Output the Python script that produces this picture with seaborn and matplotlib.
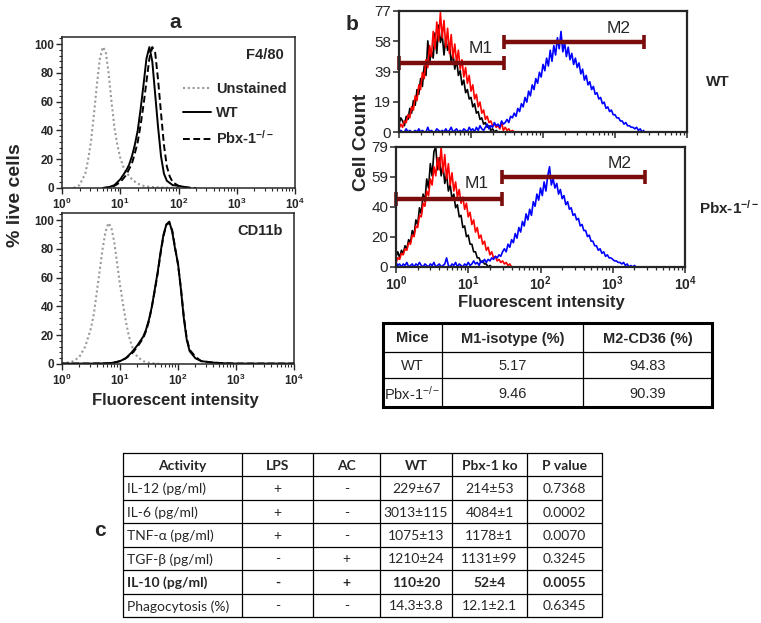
import numpy as np
import pandas as pd
import matplotlib.pyplot as plt
import seaborn as sns
from matplotlib.lines import Line2D
from matplotlib.ticker import MultipleLocator, LogLocator, NullFormatter

sns.set_theme(style='ticks')
plt.rcParams['font.family'] = ['Liberation Sans', 'DejaVu Sans']
plt.rcParams['mathtext.fontset'] = 'custom'
plt.rcParams['mathtext.rm'] = 'Liberation Sans'
plt.rcParams['mathtext.bf'] = 'Liberation Sans:bold'
plt.rcParams['mathtext.it'] = 'Liberation Sans:italic'

# ---- panel a : % of max vs log10(fluorescence) ----
f480_unst_x = [0.2, 0.3, 0.4, 0.45, 0.5, 0.55, 0.6, 0.65, 0.7, 0.75, 0.8, 0.85, 0.9, 0.95,
               1.0, 1.05, 1.1, 1.2, 1.3, 1.4, 1.5, 1.7, 2.0]
f480_unst_y = [0, 2, 10, 20, 33, 52, 72, 90, 98, 95, 80, 60, 42, 30,
               21, 15, 11, 6, 3, 1.5, 0.8, 0.3, 0]
f480_wt_x = [0.7, 0.8, 0.9, 1.0, 1.1, 1.15, 1.2, 1.25, 1.3, 1.35, 1.4, 1.45, 1.5, 1.55,
             1.6, 1.65, 1.7, 1.75, 1.8, 1.9, 2.0, 2.2]
f480_wt_y = [0, 0.5, 2, 6, 12, 16, 22, 30, 40, 55, 72, 90, 98, 88,
             65, 42, 22, 10, 5, 2, 1.5, 0]
f480_ko_x = [0.7, 0.8, 0.9, 1.0, 1.1, 1.15, 1.2, 1.25, 1.3, 1.35, 1.4, 1.45, 1.5, 1.55,
             1.6, 1.65, 1.7, 1.75, 1.8, 1.85, 1.9, 2.0, 2.1, 2.3]
f480_ko_y = [0, 0.5, 1.5, 4, 9, 13, 17, 24, 32, 44, 58, 74, 90, 98,
             94, 75, 52, 30, 15, 8, 4, 1.5, 0.5, 0]

cd11_unst_x = [0.0, 0.1, 0.2, 0.3, 0.4, 0.5, 0.55, 0.6, 0.65, 0.7, 0.75, 0.8, 0.85, 0.9,
               0.95, 1.0, 1.05, 1.1, 1.15, 1.2, 1.25, 1.3, 1.4, 1.5, 1.7]
cd11_unst_y = [0.5, 1, 2, 5, 12, 25, 35, 50, 65, 80, 92, 98, 95, 85,
               70, 55, 42, 30, 20, 13, 8, 5, 2, 0.8, 0]
cd11_wt_x = [0.0, 0.5, 0.8, 0.9, 1.0, 1.1, 1.2, 1.3, 1.4, 1.45, 1.5, 1.55, 1.6, 1.65, 1.7,
             1.75, 1.8, 1.85, 1.9, 1.95, 2.0, 2.05, 2.1, 2.15, 2.2, 2.3, 2.4, 2.6, 2.8, 3.0, 4.0]
cd11_wt_y = [0.3, 0.3, 0.5, 1, 2, 4, 8, 13, 19, 24, 31, 40, 52, 64, 78,
             90, 97, 99, 92, 80, 70, 52, 32, 17, 9, 4, 2, 1, 0.5, 0.3, 0.3]
cd11_ko_y = [0.3, 0.3, 0.5, 1, 2, 4, 7, 12, 18, 23, 30, 40, 51, 63, 77,
             89, 97, 98, 93, 81, 69, 53, 33, 18, 10, 5, 2, 1, 0.5, 0.3, 0.3]

# ---- panel b : cell count per channel (channels every 0.025 decade) ----
LOG_BINS = [round(0.025 * i, 3) for i in range(141)]
wt_black = [5, 9, 7, 4, 10, 8, 15, 12, 20, 17,
            27, 24, 34, 29, 42, 36, 58, 44, 52, 47,
            63, 50, 68, 57, 62, 49, 60, 52, 56, 44,
            50, 40, 46, 36, 39, 30, 33, 25, 27, 21,
            22, 16, 18, 12, 13, 8, 9, 5, 6, 3,
            4, 1, 2, 0, 1, 0, 0]
wt_red = [2, 5, 3, 7, 6, 11, 9, 16, 14, 23,
          20, 30, 27, 38, 34, 46, 41, 55, 48, 64,
          53, 70, 58, 76, 60, 71, 54, 66, 50, 62,
          47, 56, 44, 52, 40, 46, 35, 41, 31, 36,
          26, 30, 21, 24, 16, 19, 12, 14, 8, 10,
          6, 7, 4, 5, 3, 4, 2, 6, 1, 3,
          1, 2, 0, 1, 0]
wt_blue = [0, 1, 0, 0, 2, 0, 1, 0, 0, 1,
           0, 2, 0, 1, 0, 0, 3, 0, 1, 0,
           0, 2, 1, 0, 1, 0, 2, 0, 1, 3,
           0, 1, 2, 0, 1, 0, 2, 1, 0, 3,
           1, 2, 0, 3, 1, 4, 2, 1, 3, 5,
           2, 4, 3, 6, 4, 5, 3, 7, 5, 6,
           8, 6, 10, 9, 12, 10, 15, 13, 18, 16,
           22, 19, 26, 23, 30, 27, 34, 31, 38, 35,
           43, 39, 47, 42, 52, 45, 55, 49, 60, 53,
           64, 51, 57, 48, 54, 46, 50, 43, 47, 41,
           44, 37, 40, 33, 36, 30, 32, 27, 29, 24,
           25, 21, 22, 18, 19, 15, 16, 13, 14, 11,
           11, 9, 9, 7, 7, 5, 6, 4, 4, 3,
           3, 2, 3, 1, 2, 0, 1]
ko_black = [7, 10, 6, 11, 9, 14, 12, 18, 16, 24,
            21, 31, 28, 39, 35, 48, 43, 58, 52, 68,
            60, 76, 79, 64, 72, 60, 67, 55, 61, 50,
            54, 45, 48, 39, 41, 33, 34, 26, 27, 20,
            21, 15, 15, 10, 10, 6, 6, 3, 4, 2,
            2, 0, 1, 0]
ko_red = [3, 6, 5, 9, 8, 12, 11, 16, 15, 21,
          20, 27, 26, 34, 33, 42, 40, 50, 47, 58,
          54, 66, 60, 72, 64, 79, 62, 74, 58, 68,
          54, 62, 50, 56, 46, 51, 42, 46, 38, 42,
          33, 36, 28, 31, 23, 26, 19, 21, 15, 17,
          11, 13, 8, 10, 6, 7, 4, 5, 3, 4,
          2, 3, 1, 2, 0]
ko_blue = [3, 1, 2, 0, 2, 1, 3, 0, 1, 2,
           0, 2, 1, 3, 1, 0, 2, 1, 0, 2,
           1, 3, 0, 1, 2, 0, 1, 2, 6, 1,
           0, 2, 1, 3, 0, 2, 1, 0, 2, 1,
           3, 1, 2, 4, 2, 3, 1, 4, 3, 5,
           3, 5, 4, 6, 5, 7, 6, 8, 7, 10,
           12, 10, 15, 13, 18, 16, 22, 19, 26, 23,
           30, 27, 35, 31, 38, 34, 43, 40, 48, 44,
           52, 47, 56, 50, 60, 66, 54, 58, 52, 55,
           48, 51, 45, 47, 41, 43, 38, 39, 34, 35,
           31, 32, 27, 28, 24, 24, 20, 21, 17, 17,
           14, 14, 11, 12, 9, 10, 7, 8, 6, 6,
           5, 4, 4, 3, 3, 2, 3, 1, 2, 0,
           1, 0, 1, 0, 0, 0, 0]

# gates: (start, end, height) in intensity / count units
gates_wt = {'M1': (1, 29, 44), 'M2': (29, 2500, 57)}
gates_ko = {'M1': (1, 29, 45), 'M2': (29, 2800, 59)}
gate_lbl_wt = {'M1': (13.5, 53), 'M2': (1140, 66)}
gate_lbl_ko = {'M1': (13.2, 55), 'M2': (1260, 68)}

# ---- tables ----
mice = ['WT', 'Pbx-1$^{-/-}$']
m1_isotype = ['5.17', '9.46']
m2_cd36 = ['94.83', '90.39']
hdr_b = ['Mice', 'M1-isotype (%)', 'M2-CD36 (%)']

hdr_c = ['Activity', 'LPS', 'AC', 'WT', 'Pbx-1 ko', 'P value']
activity = ['IL-12 (pg/ml)', 'IL-6 (pg/ml)', 'TNF-\u03b1 (pg/ml)', 'TGF-\u03b2 (pg/ml)',
            'IL-10 (pg/ml)', 'Phagocytosis (%)']
lps = ['+', '+', '+', '-', '-', '-']
ac = ['-', '-', '-', '+', '+', '-']
wt_vals = ['229\u00b167', '3013\u00b1115', '1075\u00b113', '1210\u00b124', '110\u00b120', '14.3\u00b13.8']
ko_vals = ['214\u00b153', '4084\u00b11', '1178\u00b11', '1131\u00b199', '52\u00b14', '12.1\u00b12.1']
p_vals = ['0.7368', '0.0002', '0.0070', '0.3245', '0.0055', '0.6345']
bold_row = 4

W, H = 761, 623
fig = plt.figure(figsize=(W / 100, H / 100), dpi=100)

# pixel overlay for labels and tables
ov = fig.add_axes([0, 0, 1, 1])
ov.set_xlim(0, W)
ov.set_ylim(H, 0)
ov.axis('off')


def px_axes(x0, y0, x1, y1):
    return fig.add_axes([x0 / W, 1 - y1 / H, (x1 - x0) / W, (y1 - y0) / H])


def log_labels():
    return [r'$\mathbf{10^{%d}}$' % i for i in range(5)]


def style_a(ax):
    ax.set_xscale('log')
    ax.set_xlim(1, 1e4)
    ax.set_ylim(0, 105)
    ax.set_xticks([1, 10, 100, 1000, 10000], log_labels(), fontsize=8.5)
    ax.xaxis.set_minor_locator(LogLocator(base=10, subs=np.arange(2, 10)))
    ax.xaxis.set_minor_formatter(NullFormatter())
    ax.set_yticks([0, 20, 40, 60, 80, 100], ['0', '20', '40', '60', '80', '100'],
                  fontsize=8.5, fontweight='bold')
    ax.yaxis.set_minor_locator(MultipleLocator(4))
    ax.tick_params(which='major', length=4, width=1, pad=2)
    ax.tick_params(which='minor', length=2, width=0.8)
    for s in ax.spines.values():
        s.set_linewidth(1.1)
    ax.set_xlabel('')
    ax.set_ylabel('')


def curve(ax, xs, ys, **kw):
    d = pd.DataFrame({'x': np.power(10.0, xs), 'y': ys})
    sns.lineplot(data=d, x='x', y='y', ax=ax, **kw)


GRAY_DOT = dict(color='#999999', lw=1.5, linestyle=(0, (1, 1.3)))
SOLID = dict(color='black', lw=1.4)
DASHED = dict(color='black', lw=1.4, linestyle=(0, (3.5, 1.8)))

axA1 = px_axes(62, 37, 295, 188)
curve(axA1, f480_unst_x, f480_unst_y, **GRAY_DOT)
curve(axA1, f480_wt_x, f480_wt_y, **SOLID)
curve(axA1, f480_ko_x, f480_ko_y, **DASHED)
style_a(axA1)
handles = [Line2D([], [], **GRAY_DOT), Line2D([], [], **SOLID), Line2D([], [], **DASHED)]
axA1.legend(handles, ['Unstained', 'WT', 'Pbx-1$^{\\mathbf{-/-}}$'],
            loc='upper left', bbox_to_anchor=(0.52, 0.70), frameon=False,
            prop={'weight': 'bold', 'size': 10.5}, handlelength=1.9, handletextpad=0.35,
            labelspacing=0.65, borderpad=0, borderaxespad=0)
axA1.text(0.95, 0.93, 'F4/80', transform=axA1.transAxes, ha='right', va='top',
          fontsize=10.5, fontweight='bold')

axA2 = px_axes(62, 213, 294, 364)
curve(axA2, cd11_unst_x, cd11_unst_y, **GRAY_DOT)
curve(axA2, cd11_wt_x, cd11_wt_y, **SOLID)
curve(axA2, cd11_wt_x, cd11_ko_y, **DASHED)
style_a(axA2)
axA2.text(0.95, 0.93, 'CD11b', transform=axA2.transAxes, ha='right', va='top',
          fontsize=10.5, fontweight='bold')

GATE_COLOR = '#7a0c0c'


def style_b(ax, yticks, ylabels, show_x):
    ax.set_xscale('log')
    ax.set_xlim(1, 1e4)
    ax.set_ylim(0, yticks[-1])
    ax.set_yticks(yticks, ylabels, fontsize=11)
    ax.set_xticks([1, 10, 100, 1000, 10000], log_labels() if show_x else [''] * 5,
                  fontsize=10)
    ax.xaxis.set_minor_locator(LogLocator(base=10, subs=np.arange(2, 10)))
    ax.xaxis.set_minor_formatter(NullFormatter())
    ax.tick_params(which='major', length=4, width=1.1, pad=1.5)
    ax.tick_params(which='minor', length=2.5, width=0.9)
    for s in ax.spines.values():
        s.set_linewidth(1.6)
    ax.set_xlabel('')
    ax.set_ylabel('')


def draw_b(ax, black, red, blue, gates, labels):
    for ys, col in [(black, 'black'), (red, '#ff0000'), (blue, '#0000ff')]:
        d = pd.DataFrame({'x': np.power(10.0, LOG_BINS[:len(ys)]), 'y': ys})
        sns.lineplot(data=d, x='x', y='y', ax=ax, color=col, lw=1.2)
    for name, (lo, hi, yv) in gates.items():
        ax.plot([lo, hi], [yv, yv], color=GATE_COLOR, lw=3.2, solid_capstyle='butt',
                clip_on=False)
        ax.plot([lo, hi], [yv, yv], ls='none', marker='|', ms=10, mew=2.6,
                color=GATE_COLOR, clip_on=False)
        lx, ly = labels[name]
        ax.text(lx, ly, name, ha='center', va='center', fontsize=12.5)


axB1 = px_axes(399, 11, 687, 132)
draw_b(axB1, wt_black, wt_red, wt_blue, gates_wt, gate_lbl_wt)
style_b(axB1, [0, 19.25, 38.5, 57.75, 77], ['0', '19', '39', '58', '77'], False)

axB2 = px_axes(396, 147, 685, 267)
draw_b(axB2, ko_black, ko_red, ko_blue, gates_ko, gate_lbl_ko)
style_b(axB2, [0, 19.75, 39.5, 59.25, 79], ['0', '20', '40', '59', '79'], True)

# labels in pixel coordinates
ov.text(175, 22, 'a', ha='center', va='center', fontsize=15, fontweight='bold')
ov.text(352, 24, 'b', ha='center', va='center', fontsize=15, fontweight='bold')
ov.text(100, 530, 'c', ha='center', va='center', fontsize=15, fontweight='bold')
ov.text(16, 195, '% live cells', rotation=90, ha='center', va='center',
        fontsize=14, fontweight='bold')
ov.text(175, 400, 'Fluorescent intensity', ha='center', va='center',
        fontsize=12, fontweight='bold')
ov.text(361, 142, 'Cell Count', rotation=90, ha='center', va='center',
        fontsize=14, fontweight='bold')
ov.text(541, 303, 'Fluorescent intensity', ha='center', va='center',
        fontsize=12, fontweight='bold')
ov.text(718, 82, 'WT', ha='center', va='center', fontsize=11, fontweight='bold')
ov.text(759, 208, 'Pbx-1$^{\\mathbf{-/-}}$', ha='right', va='center',
        fontsize=11, fontweight='bold')

# table b
bx = [383, 442, 583, 712]
by = [323, 352, 378, 407]
rows_b = [hdr_b] + [[mice[i], m1_isotype[i], m2_cd36[i]] for i in range(2)]
for r, row in enumerate(rows_b):
    for c, txt in enumerate(row):
        ov.text((bx[c] + bx[c + 1]) / 2, (by[r] + by[r + 1]) / 2 + 1, txt,
                ha='center', va='center', fontsize=10.5,
                fontweight='bold' if r == 0 else 'normal')
for xv in bx[1:-1]:
    ov.plot([xv, xv], [by[0], by[-1]], color='black', lw=0.9)
for yv in by[1:-1]:
    ov.plot([bx[0], bx[-1]], [yv, yv], color='black', lw=0.9)
ov.add_patch(plt.Rectangle((bx[0], by[0]), bx[-1] - bx[0], by[-1] - by[0],
                           fill=False, lw=2.2, edgecolor='black'))

# table c
cx = [123, 242, 313, 380, 452, 527, 602]
cy = [453 + i * (617 - 453) / 7 for i in range(8)]
rows_c = [hdr_c] + [[activity[i], lps[i], ac[i], wt_vals[i], ko_vals[i], p_vals[i]]
                    for i in range(len(activity))]
cfont = ['Lato', 'DejaVu Sans']
for r, row in enumerate(rows_c):
    bold = r == 0 or r - 1 == bold_row
    for c, txt in enumerate(row):
        yc = (cy[r] + cy[r + 1]) / 2 + 1
        if c == 0 and r > 0:
            ov.text(cx[0] + 4, yc, txt, ha='left', va='center', fontsize=10,
                    family=cfont, fontweight='bold' if bold else 'normal')
        else:
            ov.text((cx[c] + cx[c + 1]) / 2, yc, txt, ha='center', va='center',
                    fontsize=10, family=cfont, fontweight='bold' if bold else 'normal')
for xv in cx:
    ov.plot([xv, xv], [cy[0], cy[-1]], color='black', lw=0.9)
for yv in cy:
    ov.plot([cx[0], cx[-1]], [yv, yv], color='black', lw=0.9)

fig.savefig('out.png', dpi=100)
